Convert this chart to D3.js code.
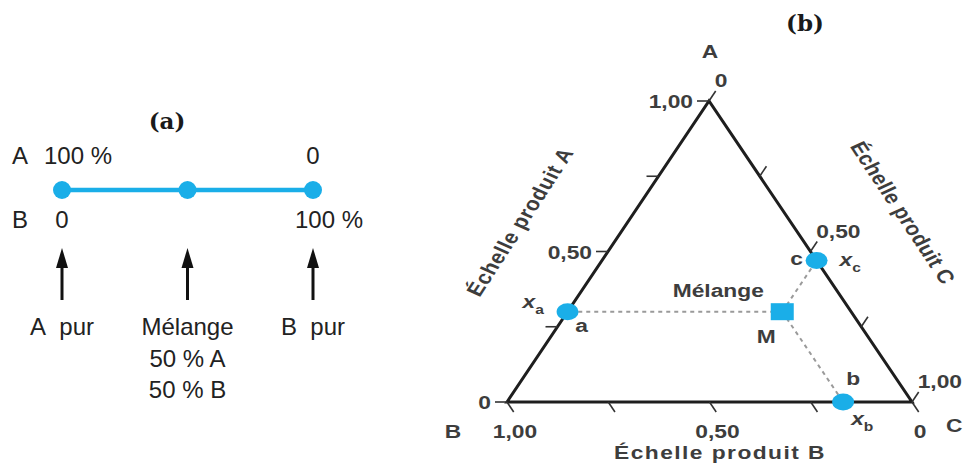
<!DOCTYPE html>
<html>
<head>
<meta charset="utf-8">
<script src="https://cdn.jsdelivr.net/npm/d3@7"></script>
<style>
  body { margin: 0; background: #fff; }
  svg { display: block; }
</style>
</head>
<body>
<svg id="chart" width="963" height="466"></svg>
<script>
// ---- Panel (a): binary mixture A/B ----
const binaryShareB = [0, 50, 100];                 // % of B at each marked point
const binaryTopLabels = ["100 %", "", "0"];        // content of A
const binaryBottomLabels = ["0", "", "100 %"];     // content of B
const binaryCaptions = [["A\u00a0\u00a0pur"], ["Mélange", "50 % A", "50 % B"], ["B\u00a0\u00a0pur"]];

// ---- Panel (b): ternary diagram A/B/C ----
const ternaryTicks = [0, 0.25, 0.5, 0.75, 1];
const ternaryLabelled = [0, 0.5, 1];
const mixtureShares = [0.30, 0.17, 0.53];          // x_a, x_b, x_c of the mixture M

const BLUE = "#1aaee8";
const svg = d3.select("#chart");

// ================= Panel (a) =================
const ga = svg.append("g").attr("font-family", "Liberation Sans, Arial, sans-serif")
  .attr("font-size", 24).attr("fill", "#222");

const xBin = d3.scaleLinear().domain([0, 100]).range([62, 313]);
const lineY = 190;

ga.append("text").attr("x", 167).attr("y", 129).attr("text-anchor", "middle")
  .attr("font-family", "DejaVu Serif, Liberation Serif, serif").attr("font-weight", "bold")
  .attr("font-size", 23).attr("fill", "#1a1a1a").text("(a)");

ga.append("text").attr("x", 12).attr("y", 164).text("A");
ga.append("text").attr("x", 12).attr("y", 228).text("B");

ga.append("line")
  .attr("x1", xBin(d3.min(binaryShareB))).attr("x2", xBin(d3.max(binaryShareB)))
  .attr("y1", lineY).attr("y2", lineY)
  .attr("stroke", BLUE).attr("stroke-width", 4.5);

ga.selectAll("circle.pt").data(binaryShareB).join("circle")
  .attr("cx", d => xBin(d)).attr("cy", lineY).attr("r", 9).attr("fill", BLUE);

// content labels above / below the line
ga.selectAll("text.top").data(binaryShareB).join("text")
  .attr("x", (d, i) => xBin(d) + (i === 0 ? 16 : 0)).attr("y", 164)
  .attr("text-anchor", "middle").text((d, i) => binaryTopLabels[i]);
ga.selectAll("text.bot").data(binaryShareB).join("text")
  .attr("x", (d, i) => xBin(d) + (i === 2 ? 16 : 0)).attr("y", 228)
  .attr("text-anchor", "middle").text((d, i) => binaryBottomLabels[i]);

// arrows pointing up to each point
binaryShareB.forEach((d, i) => {
  const x = xBin(d);
  ga.append("line").attr("x1", x).attr("x2", x).attr("y1", 300).attr("y2", 262)
    .attr("stroke", "#111").attr("stroke-width", 3);
  ga.append("path").attr("d", `M${x},248 L${x - 6},268 L${x + 6},268 Z`).attr("fill", "#111");
  binaryCaptions[i].forEach((t, j) => {
    ga.append("text").attr("x", x).attr("y", 335 + j * 31.5)
      .attr("text-anchor", "middle").text(t);
  });
});

// ================= Panel (b) =================
const gb = svg.append("g");
const SX = 1.2;   // horizontal widening of the lettering

// projection of (share A, share C) into the plane; share B is the remainder
const yA = d3.scaleLinear().domain([0, 1]).range([402, 101]);
const xC = d3.scaleLinear().domain([0, 1]).range([507, 912]);
const xA = d3.scaleLinear().domain([0, 1]).range([0, 709 - 507]);
const proj = (a, c) => [xC(c) + xA(a), yA(a)];

const vA = proj(1, 0), vB = proj(0, 0), vC = proj(0, 1);

function unit(p, q) {
  const dx = q[0] - p[0], dy = q[1] - p[1], l = Math.hypot(dx, dy);
  return [dx / l, dy / l];
}

function label(x, y, text, o = {}) {
  const t = gb.append("text")
    .attr("transform", `translate(${x},${y}) scale(${SX},1)` + (o.rotate ? ` rotate(${o.rotate})` : ""))
    .attr("text-anchor", o.anchor || "middle")
    .attr("font-family", "Liberation Sans, Arial, sans-serif")
    .attr("font-weight", "bold")
    .attr("font-size", o.size || 19)
    .attr("fill", "#3d3d3d");
  if (o.spacing) t.attr("letter-spacing", o.spacing);
  if (o.sub) {
    t.append("tspan").attr("font-style", "italic").text(text);
    t.append("tspan").attr("font-size", 13).attr("dy", 6).text(o.sub);
  } else {
    t.text(text);
  }
  return t;
}

const fmt = v => v === 0 ? "0" : d3.format(".2f")(v).replace(".", ",");

// dashed construction lines from M to the three sides
const [mA, mB, mC] = mixtureShares;
const pM = proj(mA, mC);
const pa = proj(mA, 0);           // on side B–A (C = 0)
const pb = proj(0, 1 - mB);       // on side B–C (A = 0)
const pc = proj(1 - mC, mC);      // on side A–C (B = 0)
[pa, pb, pc].forEach(p => {
  gb.append("line").attr("x1", pM[0]).attr("y1", pM[1]).attr("x2", p[0]).attr("y2", p[1])
    .attr("stroke", "#9a9a9a").attr("stroke-width", 2).attr("stroke-dasharray", "4,4");
});

// triangle outline
gb.append("path")
  .attr("d", d3.line()([vB, vA, vC, vB]) + "Z")
  .attr("fill", "none").attr("stroke", "#1e1e1e").attr("stroke-width", 3)
  .attr("stroke-linejoin", "miter");

// ticks and tick labels for the three scales
const TL = 12;
const dirA = [-1, 0];             // scale A along side B–A
const dirB = unit(vA, vC);        // scale B along side B–C
const dirC = unit(vB, vA);        // scale C along side A–C
ternaryTicks.forEach(t => {
  const sides = [
    { p: proj(t, 0), d: dirA },
    { p: proj(0, 1 - t), d: dirB },
    { p: proj(1 - t, t), d: dirC }
  ];
  sides.forEach(s => {
    gb.append("line").attr("x1", s.p[0]).attr("y1", s.p[1])
      .attr("x2", s.p[0] + s.d[0] * TL).attr("y2", s.p[1] + s.d[1] * TL)
      .attr("stroke", "#333").attr("stroke-width", 1.6);
  });
});
ternaryLabelled.forEach(t => {
  const pA = proj(t, 0);
  label(pA[0] - TL - 4, pA[1] + 7, fmt(t), { anchor: "end" });
  const pB = proj(0, 1 - t);
  label(pB[0] + 8, 438, fmt(t));
  const pC = proj(1 - t, t);
  label(pC[0] + dirC[0] * TL - 1, pC[1] + dirC[1] * TL - 4, fmt(t), { anchor: "start" });
});

// vertex names
label(vA[0] + 1, 58, "A");
label(453, 438, "B");
label(946, 432, "C", { anchor: "start" });

// axis titles
label(720, 459, "Échelle produit B", { spacing: 1.2 });
label(527, 225, "Échelle produit A", { spacing: 0.6, rotate: -61.5 });
label(896, 216, "Échelle produit C", { spacing: 0.2, rotate: 61 });

// points on the sides and the mixture M
[pa, pb, pc].forEach(p => {
  gb.append("ellipse").attr("cx", p[0]).attr("cy", p[1]).attr("rx", 11).attr("ry", 8.5).attr("fill", BLUE);
});
gb.append("rect").attr("x", pM[0] - 11.5).attr("y", pM[1] - 8.5)
  .attr("width", 23).attr("height", 17).attr("fill", BLUE);

label(pa[0] + 14, pa[1] + 20, "a", { anchor: "middle" });
label(pa[0] - 45, pa[1] - 4, "x", { anchor: "start", sub: "a" });
label(pb[0] + 10, pb[1] - 17, "b");
label(pb[0] + 8, pb[1] + 23, "x", { anchor: "start", sub: "b" });
label(pc[0] - 20, pc[1] + 4, "c");
label(pc[0] + 23, pc[1] + 5, "x", { anchor: "start", sub: "c" });

label(pM[0] - 64, pM[1] - 15, "Mélange");
label(pM[0] - 16, pM[1] + 31, "M");

// panel tag
gb.append("text").attr("x", 805).attr("y", 31).attr("text-anchor", "middle")
  .attr("font-family", "DejaVu Serif, Liberation Serif, serif").attr("font-weight", "bold")
  .attr("font-size", 23).attr("fill", "#1a1a1a").text("(b)");
</script>
</body>
</html>
